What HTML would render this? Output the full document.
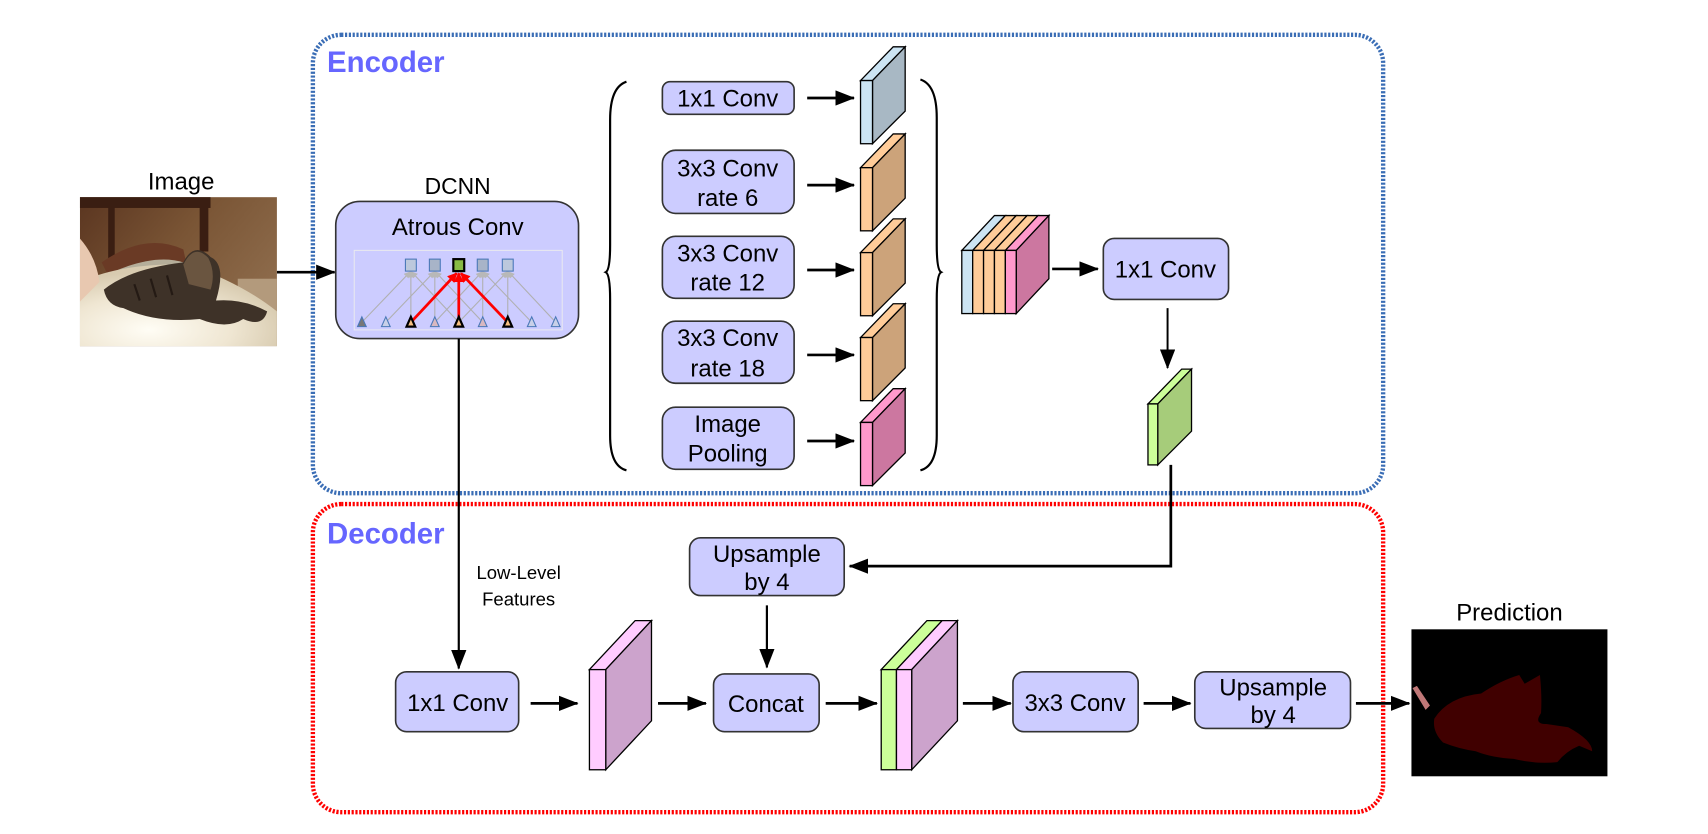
<!DOCTYPE html>
<html><head><meta charset="utf-8"><style>
html,body{margin:0;padding:0;background:#fff;}
svg{display:block;}
text{font-family:"Liberation Sans",sans-serif;fill:#000;}
</style></head><body>
<svg width="1708" height="834" viewBox="0 0 1568 766" xmlns="http://www.w3.org/2000/svg">
<defs>
<marker id="ahb" markerWidth="18" markerHeight="14" refX="17" refY="7" orient="auto" markerUnits="userSpaceOnUse">
<path d="M0,0 L18,7 L0,14 Z" fill="#000"/></marker>
<marker id="ahg" markerWidth="6" markerHeight="6" refX="5" refY="3" orient="auto" markerUnits="userSpaceOnUse">
<path d="M0,0 L6,3 L0,6 Z" fill="#b8b8b8"/></marker>
<marker id="ahr" markerWidth="9" markerHeight="9" refX="8" refY="4.5" orient="auto" markerUnits="userSpaceOnUse">
<path d="M0,0 L9,4.5 L0,9 Z" fill="#f00"/></marker>
<linearGradient id="bg" x1="0" y1="0" x2="1" y2="0.6">
<stop offset="0" stop-color="#5a3520"/><stop offset="0.5" stop-color="#7a5535"/><stop offset="1" stop-color="#8e6c4c"/></linearGradient>
<radialGradient id="sun" cx="0.35" cy="0.8" r="0.7">
<stop offset="0" stop-color="#fffdf5"/><stop offset="0.6" stop-color="#efe6d2"/><stop offset="1" stop-color="#d8cbb0"/></radialGradient>
</defs>

<rect x="287" y="32" width="983" height="421" rx="26" fill="none" stroke="#3a6db5" stroke-width="4" stroke-dasharray="2,1.5"/>
<rect x="287" y="463" width="983" height="283" rx="26" fill="none" stroke="#ff0000" stroke-width="4" stroke-dasharray="2,1.5"/>
<text x="300" y="66" font-size="27" font-weight="bold" style="fill:#6666ff">Encoder</text>
<text x="300" y="499" font-size="27" font-weight="bold" style="fill:#6666ff">Decoder</text>

<text x="166" y="174" font-size="22" text-anchor="middle">Image</text>
<svg x="73" y="181" width="181" height="137" viewBox="0 0 181 137">
<rect width="181" height="137" fill="url(#bg)"/>
<rect x="0" y="0" width="120" height="10" fill="#3a1e12"/>
<rect x="26" y="8" width="6" height="52" fill="#3a1e12"/>
<rect x="110" y="5" width="8" height="45" fill="#3a1e12"/>
<rect x="145" y="75" width="36" height="30" fill="#b39a7c"/>
<path d="M20,60 Q60,32 95,48 L98,62 L30,80 Z" fill="#6a3a25"/>
<path d="M32,68 Q70,52 95,60 L92,72 L40,85 Z" fill="#b5ae9a"/>
<path d="M0,78 Q40,60 100,62 Q150,80 181,105 L181,137 L0,137 Z" fill="url(#sun)"/>
<path d="M0,38 Q15,55 18,78 L0,96 Z" fill="#e8c8b0"/>
<path d="M22,85 Q45,66 95,60 Q105,40 120,55 Q135,62 125,95 Q150,93 172,105 Q168,120 150,112 Q135,122 110,112 Q70,116 40,102 Q25,100 22,85 Z" fill="#3e3228"/>
<path d="M95,62 Q105,42 118,56 Q125,70 120,85 L100,80 Z" fill="#6a5540"/>
<g stroke="#241a14" stroke-width="2" fill="none"><path d="M50,80 L55,95"/><path d="M65,75 L70,92"/><path d="M80,72 L85,90"/></g>
</svg>
<line x1="254" y1="250" x2="307" y2="250" stroke="#000" stroke-width="2.5" marker-end="url(#ahb)"/>

<text x="420" y="178" font-size="21" text-anchor="middle">DCNN</text>
<rect x="308" y="185" width="223" height="126" rx="22" fill="#ccccff" stroke="#333" stroke-width="1.5"/>
<text x="420" y="216" font-size="22" text-anchor="middle">Atrous Conv</text>
<rect x="325" y="230" width="191" height="73" fill="none" stroke="#e8e8f0" stroke-width="1"/>
<g stroke="#b0b0b0" stroke-width="1" marker-end="url(#ahg)">
<line x1="332" y1="296" x2="376" y2="250"/><line x1="377" y1="296" x2="377" y2="250"/><line x1="421" y1="296" x2="378" y2="250"/>
<line x1="354" y1="296" x2="398" y2="250"/><line x1="399" y1="296" x2="399" y2="250"/><line x1="443" y1="296" x2="400" y2="250"/>
<line x1="399" y1="296" x2="442" y2="250"/><line x1="443" y1="296" x2="443" y2="250"/><line x1="488" y1="296" x2="444" y2="250"/>
<line x1="421" y1="296" x2="465" y2="250"/><line x1="466" y1="296" x2="466" y2="250"/><line x1="510" y1="296" x2="467" y2="250"/>
</g>
<g stroke="#f00" stroke-width="2.5" marker-end="url(#ahr)">
<line x1="377" y1="296" x2="419" y2="251"/><line x1="421" y1="296" x2="421" y2="251"/><line x1="466" y1="296" x2="423" y2="251"/>
</g>
<g stroke="#4a78b8" stroke-width="1" fill="#bcc8dc">
<rect x="372" y="238" width="10" height="11"/><rect x="394" y="238" width="10" height="11" fill="#a8b4c8"/>
<rect x="438" y="238" width="10" height="11" fill="#a8b4c8"/><rect x="461" y="238" width="10" height="11"/>
</g>
<rect x="416" y="238" width="10" height="11" fill="#88bb44" stroke="#000" stroke-width="2"/>
<g stroke="#4a78b8" stroke-width="1" fill="#c8d0e8">
<path d="M332,291 L336,300 L328,300 Z" fill="#777"/><path d="M354,291 L358,300 L350,300 Z"/>
<path d="M399,291 L403,300 L395,300 Z" fill="#d8b8c0"/><path d="M443,291 L447,300 L439,300 Z" fill="#d8b8c0"/>
<path d="M488,291 L492,300 L484,300 Z"/><path d="M510,291 L514,300 L506,300 Z"/>
</g>
<g stroke="#000" stroke-width="2" fill="#f8c080">
<path d="M377,291 L381,300 L373,300 Z"/><path d="M421,291 L425,300 L417,300 Z"/><path d="M466,291 L470,300 L462,300 Z"/>
</g>

<line x1="421" y1="311" x2="421" y2="614" stroke="#000" stroke-width="2" marker-end="url(#ahb)"/>
<text x="476" y="532" font-size="17" text-anchor="middle">Low-Level</text>
<text x="476" y="556" font-size="17" text-anchor="middle">Features</text>

<path d="M575,75 Q560,80 560,110 L560,225 Q560,248 556,250 Q560,252 560,275 L560,400 Q560,428 575,432" fill="none" stroke="#000" stroke-width="2"/>
<path d="M845,73 Q860,78 860,108 L860,225 Q860,248 864,250 Q860,252 860,275 L860,400 Q860,428 845,432" fill="none" stroke="#000" stroke-width="2"/>

<g fill="#ccccff" stroke="#333" stroke-width="1.5">
<rect x="608" y="75" width="121" height="30" rx="7"/>
<rect x="608" y="138" width="121" height="58" rx="12"/>
<rect x="608" y="217" width="121" height="57" rx="12"/>
<rect x="608" y="295" width="121" height="57" rx="12"/>
<rect x="608" y="374" width="121" height="57" rx="12"/>
</g>
<g font-size="22" text-anchor="middle">
<text x="668" y="98">1x1 Conv</text>
<text x="668" y="162">3x3 Conv</text><text x="668" y="189">rate 6</text>
<text x="668" y="240">3x3 Conv</text><text x="668" y="267">rate 12</text>
<text x="668" y="318">3x3 Conv</text><text x="668" y="346">rate 18</text>
<text x="668" y="397">Image</text><text x="668" y="424">Pooling</text>
</g>
<g stroke="#000" stroke-width="2.5" marker-end="url(#ahb)">
<line x1="741" y1="90" x2="784" y2="90"/><line x1="741" y1="170" x2="784" y2="170"/>
<line x1="741" y1="248" x2="784" y2="248"/><line x1="741" y1="326" x2="784" y2="326"/>
<line x1="741" y1="405" x2="784" y2="405"/>
</g>

<g stroke="#000" stroke-width="1.2">
<path d="M790,74 L820,43 L831,43 L801,74 Z" fill="#cce4f3"/><path d="M801,74 L831,43 L831,102 L801,132 Z" fill="#a8b8c4"/><rect x="790" y="74" width="11" height="58" fill="#cce4f3"/>
<path d="M790,154 L820,123 L831,123 L801,154 Z" fill="#ffcc99"/><path d="M801,154 L831,123 L831,182 L801,212 Z" fill="#cca37a"/><rect x="790" y="154" width="11" height="58" fill="#ffcc99"/>
<path d="M790,232 L820,201 L831,201 L801,232 Z" fill="#ffcc99"/><path d="M801,232 L831,201 L831,260 L801,290 Z" fill="#cca37a"/><rect x="790" y="232" width="11" height="58" fill="#ffcc99"/>
<path d="M790,310 L820,279 L831,279 L801,310 Z" fill="#ffcc99"/><path d="M801,310 L831,279 L831,338 L801,368 Z" fill="#cca37a"/><rect x="790" y="310" width="11" height="58" fill="#ffcc99"/>
<path d="M790,388 L820,357 L831,357 L801,388 Z" fill="#ff99cc"/><path d="M801,388 L831,357 L831,416 L801,446 Z" fill="#cc77a0"/><rect x="790" y="388" width="11" height="58" fill="#ff99cc"/>
</g>

<g stroke="#000" stroke-width="1.2">
<path d="M883,230 L913,198 L923,198 L893,230 Z" fill="#cce4f3"/>
<path d="M893,230 L923,198 L933,198 L903,230 Z" fill="#ffcc99"/>
<path d="M903,230 L933,198 L943,198 L913,230 Z" fill="#ffcc99"/>
<path d="M913,230 L943,198 L953,198 L923,230 Z" fill="#ffcc99"/>
<path d="M923,230 L953,198 L963,198 L933,230 Z" fill="#ff99cc"/>
<path d="M933,230 L963,198 L963,256 L933,288 Z" fill="#cc77a0"/>
<rect x="883" y="230" width="10" height="58" fill="#cce4f3"/>
<rect x="893" y="230" width="10" height="58" fill="#ffcc99"/>
<rect x="903" y="230" width="10" height="58" fill="#ffcc99"/>
<rect x="913" y="230" width="10" height="58" fill="#ffcc99"/>
<rect x="923" y="230" width="10" height="58" fill="#ff99cc"/>
</g>
<line x1="966" y1="247" x2="1008" y2="247" stroke="#000" stroke-width="2.5" marker-end="url(#ahb)"/>
<rect x="1013" y="219" width="115" height="56" rx="10" fill="#ccccff" stroke="#333" stroke-width="1.5"/>
<text x="1070" y="255" font-size="22" text-anchor="middle">1x1 Conv</text>
<line x1="1072" y1="283" x2="1072" y2="338" stroke="#000" stroke-width="1.8" marker-end="url(#ahb)"/>

<g stroke="#000" stroke-width="1.2">
<path d="M1054,371 L1085,339 L1094,339 L1063,371 Z" fill="#ccff99"/>
<path d="M1063,371 L1094,339 L1094,396 L1063,427 Z" fill="#a6cc7a"/>
<rect x="1054" y="371" width="9" height="56" fill="#ccff99"/>
</g>
<polyline points="1075,427 1075,520 780,520" fill="none" stroke="#000" stroke-width="2.5" marker-end="url(#ahb)"/>

<rect x="633" y="494" width="142" height="53" rx="10" fill="#ccccff" stroke="#333" stroke-width="1.5"/>
<text x="704" y="516" font-size="22" text-anchor="middle">Upsample</text>
<text x="704" y="542" font-size="22" text-anchor="middle">by 4</text>
<line x1="704" y1="556" x2="704" y2="613" stroke="#000" stroke-width="2" marker-end="url(#ahb)"/>

<rect x="363" y="617" width="113" height="55" rx="10" fill="#ccccff" stroke="#333" stroke-width="1.5"/>
<text x="420" y="653" font-size="22" text-anchor="middle">1x1 Conv</text>
<line x1="487" y1="646" x2="530" y2="646" stroke="#000" stroke-width="2.5" marker-end="url(#ahb)"/>

<g stroke="#000" stroke-width="1.2">
<path d="M541,615 L583,570 L598,570 L556,615 Z" fill="#ffccff"/>
<path d="M556,615 L598,570 L598,662 L556,707 Z" fill="#cca3cc"/>
<rect x="541" y="615" width="15" height="92" fill="#ffccff"/>
</g>
<line x1="604" y1="646" x2="648" y2="646" stroke="#000" stroke-width="2.5" marker-end="url(#ahb)"/>
<rect x="655" y="619" width="97" height="53" rx="10" fill="#ccccff" stroke="#333" stroke-width="1.5"/>
<text x="703" y="654" font-size="22" text-anchor="middle">Concat</text>
<line x1="758" y1="646" x2="805" y2="646" stroke="#000" stroke-width="2.5" marker-end="url(#ahb)"/>

<g stroke="#000" stroke-width="1.2">
<path d="M809,615 L851,570 L865,570 L823,615 Z" fill="#ccff99"/>
<path d="M823,615 L865,570 L879,570 L837,615 Z" fill="#ffccff"/>
<path d="M837,615 L879,570 L879,662 L837,707 Z" fill="#cca3cc"/>
<rect x="809" y="615" width="14" height="92" fill="#ccff99"/>
<rect x="823" y="615" width="14" height="92" fill="#ffccff"/>
</g>
<line x1="884" y1="646" x2="928" y2="646" stroke="#000" stroke-width="2.5" marker-end="url(#ahb)"/>
<rect x="930" y="617" width="115" height="55" rx="10" fill="#ccccff" stroke="#333" stroke-width="1.5"/>
<text x="987" y="653" font-size="22" text-anchor="middle">3x3 Conv</text>
<line x1="1050" y1="646" x2="1093" y2="646" stroke="#000" stroke-width="2.5" marker-end="url(#ahb)"/>
<rect x="1097" y="617" width="143" height="52" rx="10" fill="#ccccff" stroke="#333" stroke-width="1.5"/>
<text x="1169" y="639" font-size="22" text-anchor="middle">Upsample</text>
<text x="1169" y="664" font-size="22" text-anchor="middle">by 4</text>
<line x1="1245" y1="646" x2="1294" y2="646" stroke="#000" stroke-width="2.5" marker-end="url(#ahb)"/>

<text x="1386" y="570" font-size="22" text-anchor="middle">Prediction</text>
<rect x="1296" y="578" width="180" height="135" fill="#000"/>
<path d="M1297,632 L1301,630 L1313,648 L1309,652 Z" fill="#c07878"/>
<path d="M1317,660 Q1330,640 1360,637 Q1378,625 1395,620 L1400,628 L1414,620 Q1416,640 1415,655 Q1408,665 1420,665 L1440,668 Q1462,680 1462,690 L1450,685 Q1438,690 1430,700 Q1410,702 1390,697 Q1370,696 1355,690 Q1340,688 1325,682 Q1315,672 1317,660 Z" fill="#400000"/>
</svg>
</body></html>
